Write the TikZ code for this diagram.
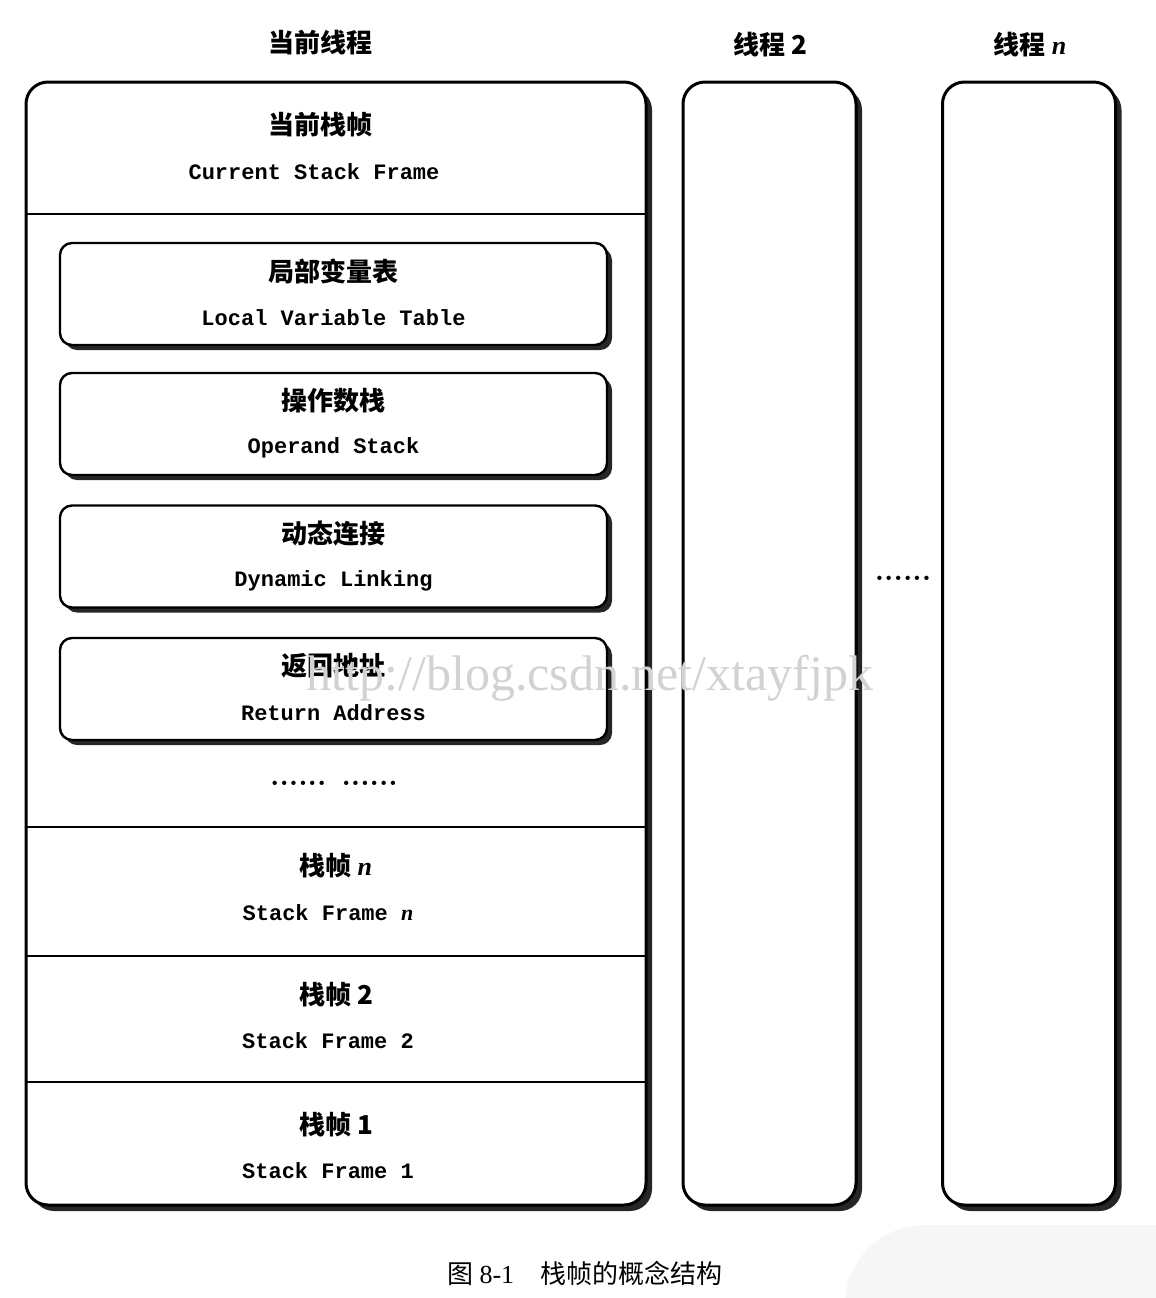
\documentclass[tikz,border=0pt]{standalone}
\usepackage{fontspec}
\newfontfamily\cjk{Noto Sans CJK SC}
\newfontfamily\enfont{Liberation Mono}
\newfontfamily\wmfont{Liberation Serif}
\usetikzlibrary{shadows,positioning}

\begin{document}
\begin{tikzpicture}[x=0.5pt,y=-0.5pt,
    cn/.style={font=\cjk\bfseries\fontsize{13}{13}\selectfont},
    en/.style={font=\enfont\bfseries\fontsize{11}{11}\selectfont},
    dots/.style={font=\bfseries\fontsize{15}{15}\selectfont},
    shade/.style={drop shadow={shadow xshift=3pt,shadow yshift=-3pt,fill=black,opacity=0.85}},
    thread/.style={draw,line width=1.5pt,fill=white,rounded corners=11pt,shade,
                   minimum width=86.5pt,minimum height=561.5pt,inner sep=0pt},
    slot/.style={draw,line width=1.2pt,fill=white,rounded corners=6pt,
                 drop shadow={shadow xshift=2.5pt,shadow yshift=-2.5pt,fill=black,opacity=0.85},
                 minimum width=273.5pt,minimum height=51pt,inner sep=0pt},
    divider/.style={line width=1.2pt}]

  \fill[white] (0,0) rectangle (1156,1298);
  \useasboundingbox (0,0) rectangle (1156,1298);
  % faint logo in the corner
  \begin{scope}
    \clip (0,0) rectangle (1156,1298);
    \fill[gray!7,rounded corners=40pt] (845,1225) rectangle (1250,1400);
  \end{scope}

  % threads
  \node[thread,minimum width=310pt] (cur) at (336,643.5) {};
  \node[thread] (thread2) at (769.5,643.5) {};
  \node[thread] (threadn) at (1029,643.5) {};

  \node[cn] (curlabel) at (320,43) {当前线程};
  \node[cn] (t2label) at (770,45) {线程 2};
  \node[cn] (tnlabel) at (1030,45) {线程 {\wmfont\itshape n}};

  % frames of the current thread
  \draw[divider] (27,214) -- (645,214);
  \draw[divider] (27,827) -- (645,827);
  \draw[divider] (27,956) -- (645,956);
  \draw[divider] (27,1082) -- (645,1082);

  \node[cn] (curframe) at (320,125) {当前栈帧};
  \node[en] (curframeen) at (314,172) {Current Stack Frame};

  \foreach \y/\name/\cntext/\entext in {
      294/lvt/局部变量表/Local Variable Table,
      424/ops/操作数栈/Operand Stack,
      556.5/dyn/动态连接/Dynamic Linking,
      689/ret/返回地址/Return Address}{
    \node[slot] (\name) at (333.5,\y) {};
    \node[cn] at ([yshift=11.5pt]\name.center) {\cntext};
    \node[en] at ([yshift=-12pt]\name.center) {\entext};
  }
  \node[dots] (moreslots) at (334,783) {...... ......};

  \node[cn] (framen) at (336,866) {栈帧 {\wmfont\itshape n}};
  \node[en] (framenen) at (328,913) {Stack Frame {\wmfont\itshape n}};
  \node[cn] (frame2) at (336,995) {栈帧 2};
  \node[en] (frame2en) at (328,1041) {Stack Frame 2};
  \node[cn] (frame1) at (336,1125) {栈帧 1};
  \node[en] (frame1en) at (328,1171) {Stack Frame 1};

  \node[dots] (morethreads) at (903,578) {......};

  % caption
  \node[font=\cjk\fontsize{13}{13}\selectfont] (caption) at (585,1273)
    {图 {\wmfont 8-1}\quad 栈帧的概念结构};

  % watermark
  \node[font=\wmfont\fontsize{25}{25}\selectfont,text=gray!35] (wmark) at (590,678)
    {http://blog.csdn.net/xtayfjpk};
\end{tikzpicture}
\end{document}
